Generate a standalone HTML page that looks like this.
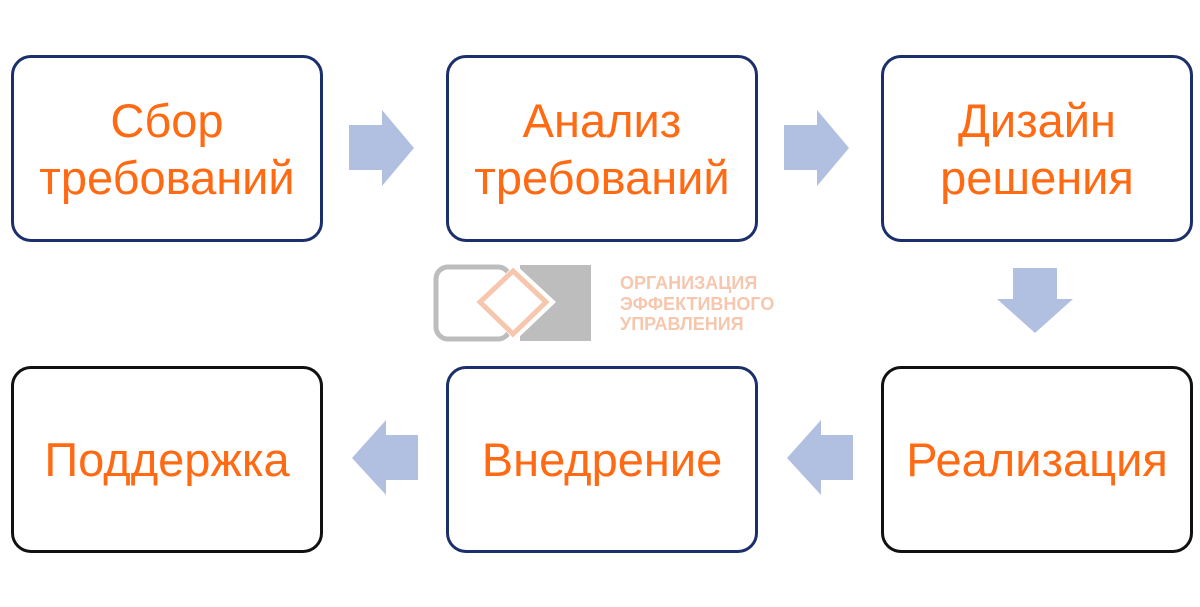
<!DOCTYPE html>
<html><head><meta charset="utf-8"><style>
body{margin:0;width:1200px;height:607px;background:#fff;position:relative;overflow:hidden;font-family:"Liberation Sans","DejaVu Sans",sans-serif}
.b{position:absolute;width:306px;height:181px;border:3px solid #1b2f6b;border-radius:20px;display:flex;align-items:center;justify-content:center;text-align:center;color:#ff6a13;font-size:47px;line-height:57px;box-sizing:content-box}
.k{border-color:#111}
svg{position:absolute;left:0;top:0}
.t{position:absolute;left:620px;color:#f6c6ad;font-weight:bold;font-size:18px;line-height:20.5px;top:273px}
</style></head><body>
<svg width="1200" height="607">
<g fill="#b1bfe0">
<polygon points="349,125 382,125 382,110 414,148 382,186 382,170 349,170"/>
<polygon points="784,125 817,125 817,110 849,148 817,186 817,170 784,170"/>
<polygon points="1013,268 1057,268 1057,299 1073,299 1035,333 997,299 1013,299"/>
<polygon points="418,435 386,435 386,420 352,458 386,495 386,480 418,480"/>
<polygon points="853,435 821,435 821,420 787,458 821,495 821,480 853,480"/>
</g>
<rect x="436" y="267" width="74" height="72" rx="12" fill="none" stroke="#bdbdbd" stroke-width="5"/>
<rect x="520" y="265" width="71" height="76" fill="#bdbdbd"/>
<polygon points="515,264 556,302 515,341 478,302" fill="#fff"/>
<polygon points="513,271 546,302 513,334 480,302" fill="none" stroke="#f6c6ad" stroke-width="5"/>
</svg>
<div class="b" style="left:11px;top:55px">Сбор<br>требований</div>
<div class="b" style="left:446px;top:55px">Анализ<br>требований</div>
<div class="b" style="left:881px;top:55px">Дизайн<br>решения</div>
<div class="b k" style="left:11px;top:366px">Поддержка</div>
<div class="b" style="left:446px;top:366px">Внедрение</div>
<div class="b k" style="left:881px;top:366px">Реализация</div>
<div class="t">ОРГАНИЗАЦИЯ<br>ЭФФЕКТИВНОГО<br>УПРАВЛЕНИЯ</div>
</body></html>
